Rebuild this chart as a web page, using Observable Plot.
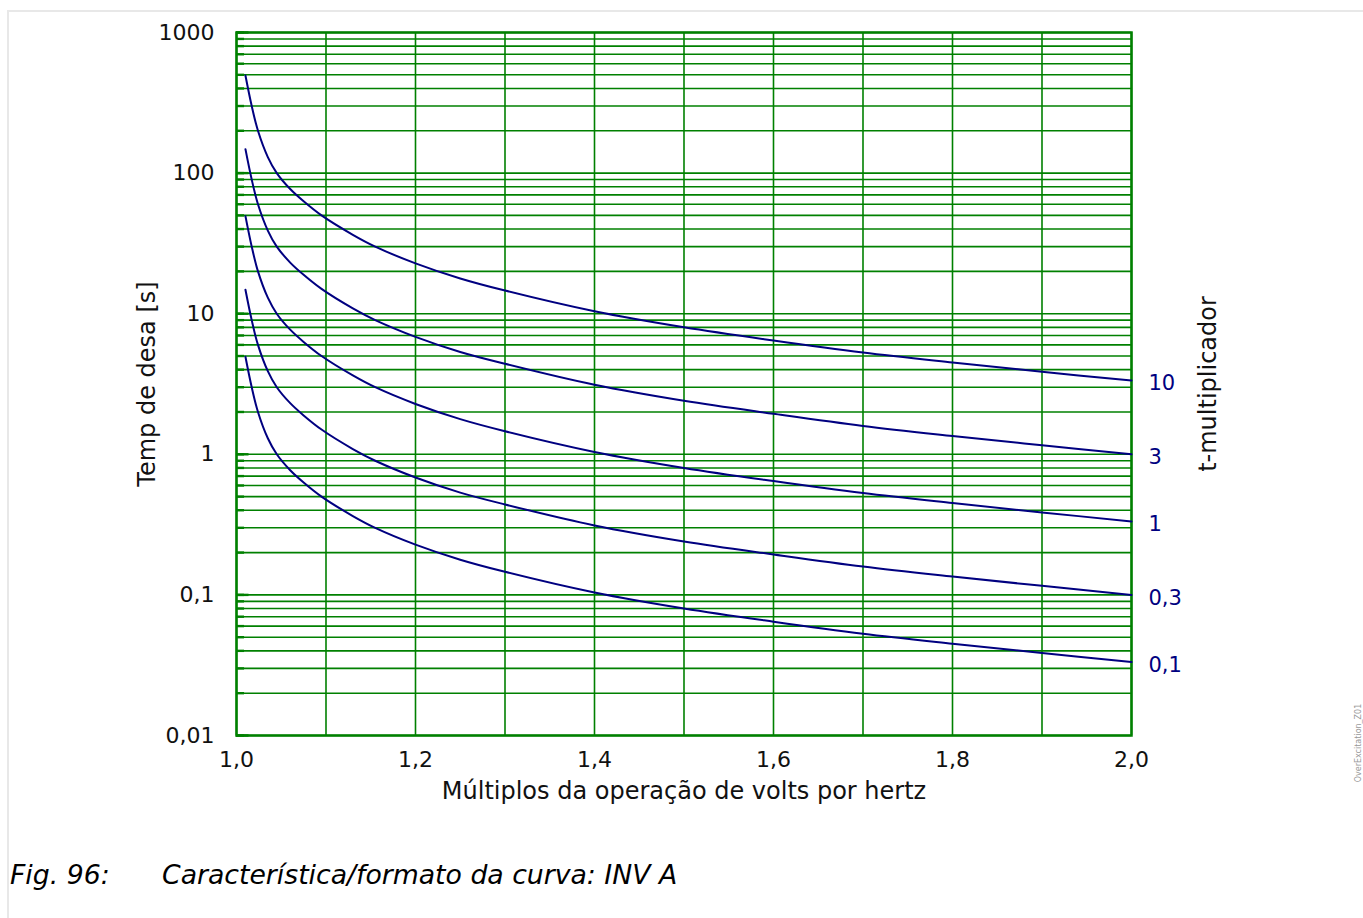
<!DOCTYPE html>
<html>
<head>
<meta charset="utf-8">
<script src="https://cdn.jsdelivr.net/npm/d3@7"></script>
<script src="https://cdn.jsdelivr.net/npm/@observablehq/plot@0.6"></script>
<style>
  html, body { margin: 0; padding: 0; background: #fff; }
  body { width: 1363px; height: 918px; position: relative; overflow: hidden; font-family: "DejaVu Sans", sans-serif; }
  #frame { position: absolute; left: 7px; top: 10px; right: 0; bottom: 0; border-top: 2px solid #e8e8e8; border-left: 2px solid #e8e8e8; }
  #chart { position: absolute; left: 0; top: 0; }
  #caption { position: absolute; left: 10px; top: 859px; font-family: "DejaVu Sans", sans-serif; font-style: italic; font-size: 26.7px; color: #000; white-space: nowrap; }
  #caption .num { display: inline-block; width: 152px; }
  #mark { position: absolute; left: 1358px; top: 743px; font-size: 8px; color: #999; transform: translate(-50%, -50%) rotate(-90deg); transform-origin: center; white-space: nowrap; }
</style>
</head>
<body>
<div id="frame"></div>
<div id="chart"></div>
<div id="caption"><span class="num">Fig. 96:</span>Característica/formato da curva: INV A</div>
<div id="mark">OverExcitation_Z01</div>
<script>
// Multiples of V/Hz operation (x positions of read points)
const mult = [1.01, 1.017, 1.024, 1.035, 1.045, 1.06, 1.075, 1.095, 1.13, 1.155, 1.2, 1.25, 1.3, 1.4, 1.5, 1.6, 1.7, 1.8, 1.9, 2.0];
// Tripping times [s], one array per t-multiplier
const tm10 = [494, 300, 200, 130, 100, 77, 63, 50, 36.4, 30, 22.8, 17.8, 14.6, 10.4, 8.0, 6.45, 5.3, 4.5, 3.86, 3.35];
const tm3  = [148, 90, 60, 39, 30, 23.1, 18.9, 15, 10.9, 9, 6.84, 5.34, 4.4, 3.12, 2.4, 1.94, 1.59, 1.35, 1.16, 1.0];
const tm1  = [49.4, 30, 20, 13, 10, 7.7, 6.3, 5.0, 3.64, 3.0, 2.28, 1.78, 1.46, 1.04, 0.80, 0.645, 0.53, 0.45, 0.386, 0.333];
const tm03 = [14.8, 9, 6, 3.9, 3, 2.31, 1.89, 1.5, 1.09, 0.9, 0.684, 0.534, 0.44, 0.312, 0.24, 0.194, 0.159, 0.135, 0.116, 0.1];
const tm01 = [4.94, 3, 2, 1.3, 1, 0.77, 0.63, 0.5, 0.364, 0.3, 0.228, 0.178, 0.146, 0.104, 0.08, 0.0645, 0.053, 0.045, 0.0386, 0.0333];
const curveLabels = ["10", "3", "1", "0,3", "0,1"];
const seriesValues = [tm10, tm3, tm1, tm03, tm01];

// Tick labels
const xTicks = [1.0, 1.2, 1.4, 1.6, 1.8, 2.0];
const yTicks = [0.01, 0.1, 1, 10, 100, 1000];

const xLabel = "Múltiplos da operação de volts por hertz";
const yLabel = "Temp de desa [s]";
const rightLabel = "t-multiplicador";

// Build tables
const rows = [];
seriesValues.forEach((vals, k) => vals.forEach((v, i) => rows.push({x: mult[i], t: v, tm: curveLabels[k]})));
const ends = seriesValues.map((vals, k) => ({x: mult[mult.length - 1], t: vals[vals.length - 1], tm: curveLabels[k]}));

const gridXVals = d3.range(0, 11).map(i => 1 + i / 10);
const gridYVals = [];
for (let e = -2; e <= 2; e++) for (let m = 1; m <= 9; m++) gridYVals.push(+(m * Math.pow(10, e)).toPrecision(3));
gridYVals.push(1000);

const comma = d => String(d).replace(".", ",");
const green = "#008000";
const navy = "#000080";
const TICK_FS = 22;
const TITLE_FS = 24;

const chart = Plot.plot({
  width: 1363,
  height: 830,
  marginLeft: 236,
  marginRight: 232,
  marginTop: 32,
  marginBottom: 95,
  style: {fontFamily: "DejaVu Sans, sans-serif", fontSize: TICK_FS + "px", color: "#111", background: "transparent"},
  x: {domain: [1, 2]},
  y: {type: "log", domain: [0.01, 1000]},
  marks: [
    Plot.gridX(gridXVals, {stroke: green, strokeOpacity: 1, strokeWidth: 1.6}),
    Plot.gridY(gridYVals, {stroke: green, strokeOpacity: 1, strokeWidth: 1.6}),
    Plot.ruleY(gridYVals, {x1: 1, x2: 1.009, stroke: green, strokeWidth: 2.4}),
    Plot.ruleY(yTicks, {x1: 1, x2: 1.014, stroke: green, strokeWidth: 2.4}),
    Plot.frame({stroke: green, strokeWidth: 2.5}),
    Plot.line(rows, {x: "x", y: "t", z: "tm", stroke: navy, strokeWidth: 2, curve: "catmull-rom"}),
    Plot.text(ends, {x: "x", y: "t", text: "tm", textAnchor: "start", dx: 17, dy: 3, fill: navy, fontSize: 21}),
    Plot.axisX({ticks: xTicks, tickSize: 0, tickPadding: 16, fontSize: TICK_FS, tickFormat: d => d.toFixed(1).replace(".", ","), label: null}),
    Plot.axisY({ticks: yTicks, tickSize: 0, tickPadding: 22, fontSize: TICK_FS, tickFormat: comma, label: null}),
    Plot.text([xLabel], {frameAnchor: "bottom", textAnchor: "middle", lineAnchor: "middle", dy: 56, fill: "#111", fontSize: TITLE_FS}),
    Plot.text([yLabel], {frameAnchor: "left", textAnchor: "middle", lineAnchor: "middle", rotate: -90, dx: -89, fill: "#111", fontSize: TITLE_FS}),
    Plot.text([rightLabel], {frameAnchor: "right", textAnchor: "middle", lineAnchor: "middle", rotate: -90, dx: 77, fill: "#111", fontSize: TITLE_FS})
  ]
});
document.getElementById("chart").appendChild(chart);
</script>
</body>
</html>
